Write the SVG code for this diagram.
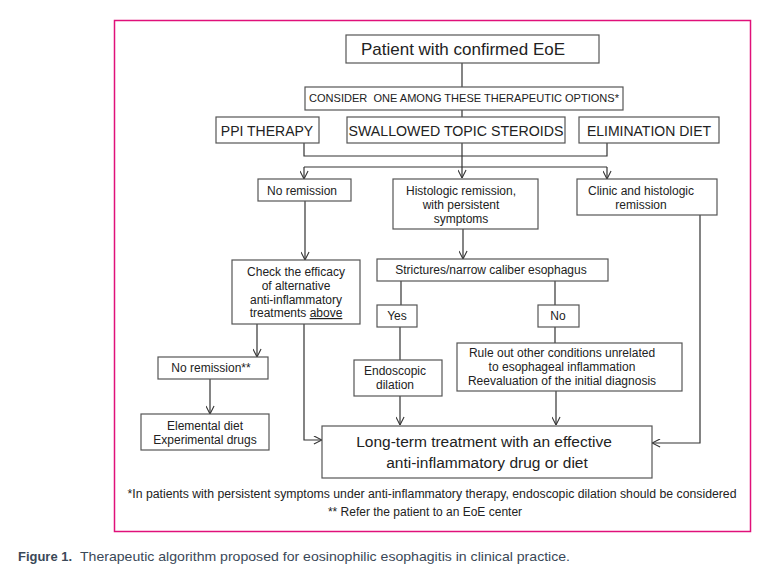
<svg xmlns="http://www.w3.org/2000/svg" width="773" height="584" viewBox="0 0 773 584">
<defs>
<style>
.box{fill:#fff;stroke:#555;stroke-width:1.2}
.t{font-family:"Liberation Sans",Arial,sans-serif;fill:#222;text-anchor:middle}
.s12{font-size:12px}
.s14{font-size:14px}
.con{fill:none;stroke:#333;stroke-width:1.2}
.cap{font-family:"Liberation Sans",Arial,sans-serif;font-size:13px;fill:#3a4858}
</style>
<marker id="arr" viewBox="0 0 10 10" refX="10" refY="5" markerWidth="9" markerHeight="9" markerUnits="userSpaceOnUse" orient="auto">
<path d="M1,0.5 L10,5 L1,9.5" fill="none" stroke="#333" stroke-width="1.2"/>
</marker>
</defs>
<rect width="773" height="584" fill="#fff"/>
<rect x="114.5" y="20.5" width="636" height="511" fill="none" stroke="#e0107a" stroke-width="1.5"/>

<g id="connectors" class="con">
<path d="M462,63 V87"/>
<path d="M462,110 V118"/>
<path d="M304,143 V156 H607 V143"/>
<path d="M462,143 V178" marker-end="url(#arr)"/>
<path d="M304,167 H607"/>
<path d="M304,167 V179" marker-end="url(#arr)"/>
<path d="M607,167 V179" marker-end="url(#arr)"/>
<path d="M305,201 V260" marker-end="url(#arr)"/>
<path d="M463,229 V259" marker-end="url(#arr)"/>
<path d="M401,281 V305"/>
<path d="M555,281 V305"/>
<path d="M400,327 V360"/>
<path d="M555,327 V343"/>
<path d="M257,324 V357" marker-end="url(#arr)"/>
<path d="M304,324 V440 H322" marker-end="url(#arr)"/>
<path d="M210,379 V414" marker-end="url(#arr)"/>
<path d="M400,396 V425" marker-end="url(#arr)"/>
<path d="M556,391 V425" marker-end="url(#arr)"/>
<path d="M700,215 V443 H652" marker-end="url(#arr)"/>
</g>

<g id="patient">
<rect class="box" x="346" y="35" width="253" height="28"/>
<text class="t" x="463" y="55" font-size="17">Patient with confirmed EoE</text>
</g>
<g id="consider">
<rect class="box" x="305" y="87" width="318" height="23"/>
<text class="t" x="464" y="102" font-size="11" textLength="310" lengthAdjust="spacingAndGlyphs" xml:space="preserve">CONSIDER  ONE AMONG THESE THERAPEUTIC OPTIONS*</text>
</g>
<g id="ppi">
<rect class="box" x="216" y="117" width="103" height="26"/>
<text class="t s14" x="267" y="136">PPI THERAPY</text>
</g>
<g id="steroids">
<rect class="box" x="347" y="117" width="218" height="26"/>
<text class="t s14" x="456" y="136" textLength="215" lengthAdjust="spacingAndGlyphs">SWALLOWED TOPIC STEROIDS</text>
</g>
<g id="diet">
<rect class="box" x="579" y="117" width="140" height="26"/>
<text class="t s14" x="649" y="136">ELIMINATION DIET</text>
</g>
<g id="noremission">
<rect class="box" x="258" y="179" width="93" height="22"/>
<text class="t s12" x="302" y="195">No remission</text>
</g>
<g id="histologic">
<rect class="box" x="393" y="179" width="145" height="50"/>
<text class="t s12" x="461" y="195">Histologic remission,</text>
<text class="t s12" x="461" y="209">with persistent</text>
<text class="t s12" x="461" y="223">symptoms</text>
</g>
<g id="clinic">
<rect class="box" x="577" y="179" width="140" height="36"/>
<text class="t s12" x="641" y="195">Clinic and histologic</text>
<text class="t s12" x="641" y="209">remission</text>
</g>
<g id="check">
<rect class="box" x="232" y="260" width="128" height="64"/>
<text class="t s12" x="296" y="276">Check the efficacy</text>
<text class="t s12" x="296" y="290">of alternative</text>
<text class="t s12" x="296" y="304">anti-inflammatory</text>
<text class="t s12" x="296" y="317">treatments <tspan text-decoration="underline">above</tspan></text>
</g>
<g id="strictures">
<rect class="box" x="377" y="259" width="231" height="22"/>
<text class="t s12" x="491" y="274">Strictures/narrow caliber esophagus</text>
</g>
<g id="yes">
<rect class="box" x="377" y="305" width="40" height="22"/>
<text class="t s12" x="397" y="320">Yes</text>
</g>
<g id="no">
<rect class="box" x="538" y="305" width="41" height="22"/>
<text class="t s12" x="558" y="320">No</text>
</g>
<g id="noremission2">
<rect class="box" x="158" y="357" width="110" height="22"/>
<text class="t s12" x="211" y="372">No remission**</text>
</g>
<g id="endoscopic">
<rect class="box" x="354" y="360" width="88" height="36"/>
<text class="t s12" x="395" y="375">Endoscopic</text>
<text class="t s12" x="395" y="389">dilation</text>
</g>
<g id="ruleout">
<rect class="box" x="457" y="343" width="225" height="48"/>
<text class="t s12" x="562" y="357">Rule out other conditions unrelated</text>
<text class="t s12" x="562" y="371">to esophageal inflammation</text>
<text class="t s12" x="562" y="385">Reevaluation of the initial diagnosis</text>
</g>
<g id="elemental">
<rect class="box" x="141" y="414" width="128" height="36"/>
<text class="t s12" x="205" y="430">Elemental diet</text>
<text class="t s12" x="205" y="444">Experimental drugs</text>
</g>
<g id="longterm">
<rect class="box" x="322" y="426" width="330" height="52"/>
<text class="t" x="484" y="447" font-size="15.5">Long-term treatment with an effective</text>
<text class="t" x="487" y="468" font-size="15.5">anti-inflammatory drug or diet</text>
</g>

<g id="footnotes">
<text class="t" x="432" y="498" font-size="12" textLength="609" lengthAdjust="spacingAndGlyphs">*In patients with persistent symptoms under anti-inflammatory therapy, endoscopic dilation should be considered</text>
<text class="t" x="425" y="516" font-size="12">** Refer the patient to an EoE center</text>
</g>

<text class="cap" x="18" y="561"><tspan font-weight="bold" textLength="54" lengthAdjust="spacingAndGlyphs">Figure 1.</tspan><tspan x="80" textLength="490" lengthAdjust="spacingAndGlyphs">Therapeutic algorithm proposed for eosinophilic esophagitis in clinical practice.</tspan></text>
</svg>
